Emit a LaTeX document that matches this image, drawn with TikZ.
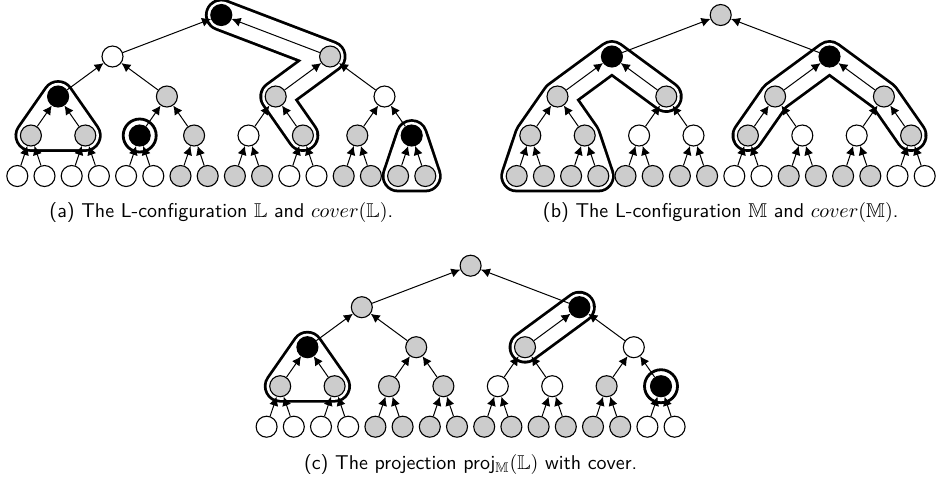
\documentclass[tikz,border=0pt]{standalone}
\usepackage{amssymb}
\usetikzlibrary{arrows.meta}
\pgfdeclarelayer{hulls}
\pgfsetlayers{hulls,main}

\definecolor{wv}{gray}{1}
\definecolor{gv}{gray}{0.8}
\definecolor{bv}{gray}{0}

\tikzset{
  vtx/.style={circle, draw=black, line width=0.55pt, minimum size=10.5pt, inner sep=0pt},
  up/.style={-{Latex[length=4.5pt,width=4.6pt]}, line width=0.5pt},
  hullouter/.style={line width=16.4pt, line cap=round, line join=round},
  hullinner/.style={white, line width=13.6pt, line cap=round, line join=round},
  ring/.style={line width=1.4pt},
  captext/.style={font=\sffamily, inner sep=0pt},
}

% complete binary tree of depth 4: #1 name prefix, #2/#3 offset,
% #4..#8 fill colours of root, level 1, level 2, level 3 and leaves
\newcommand\btree[8]{%
  \begin{scope}[shift={(#2,#3)}]
    \node[vtx, fill=#4] (#1r) at (221.3,15) {};
    \foreach \s [count=\i] in {#5}
      \node[vtx, fill=\s] (#1a\i) at ({17.3+27.2*(8*\i-4.5)},56.5) {};
    \foreach \s [count=\i] in {#6}
      \node[vtx, fill=\s] (#1b\i) at ({17.3+27.2*(4*\i-2.5)},96.5) {};
    \foreach \s [count=\i] in {#7}
      \node[vtx, fill=\s] (#1c\i) at ({17.3+27.2*(2*\i-1.5)},135.5) {};
    \foreach \s [count=\i] in {#8}
      \node[vtx, fill=\s] (#1d\i) at ({17.3+27.2*(\i-1)},176) {};
  \end{scope}
  \foreach \i in {1,2} \draw[up] (#1a\i) -- (#1r);
  \foreach \i [evaluate=\i as \j using {int((\i+1)/2)}] in {1,...,4}
    \draw[up] (#1b\i) -- (#1a\j);
  \foreach \i [evaluate=\i as \j using {int((\i+1)/2)}] in {1,...,8}
    \draw[up] (#1c\i) -- (#1b\j);
  \foreach \i [evaluate=\i as \j using {int((\i+1)/2)}] in {1,...,16}
    \draw[up] (#1d\i) -- (#1c\j);
}

% outlined hull along a path of node centres
\newcommand\hull[1]{%
  \begin{pgfonlayer}{hulls}
    \draw[hullouter] #1;
    \draw[hullinner] #1;
  \end{pgfonlayer}}
% same, with a filled polygon inside
\newcommand\hullfill[2]{%
  \begin{pgfonlayer}{hulls}
    \draw[hullouter] #1;
    \draw[hullinner] #1;
    \fill[white] #2;
  \end{pgfonlayer}}
\newcommand\hullring[1]{%
  \begin{pgfonlayer}{hulls}
    \draw[ring] (#1.center) circle[radius=8.25pt];
  \end{pgfonlayer}}

\begin{document}
\begin{tikzpicture}[x=0.5pt, y=-0.5pt]
\useasboundingbox (0,0) rectangle (936,479);

% (a) the L-configuration L
\btree{a}{0}{0}{bv}{wv,gv}{bv,gv,gv,wv}{gv,gv,bv,gv,wv,gv,gv,bv}
  {wv,wv,wv,wv,wv,wv,gv,gv,gv,gv,wv,wv,gv,gv,gv,gv}
\hullfill{(ab1.center) -- (ac1.center) -- (ac2.center) -- cycle}
  {(ab1.center) -- (ac1.center) -- (ac2.center) -- cycle}
\hullring{ac3}
\hull{(ar.center) -- (aa2.center) -- (ab3.center) -- (ac6.center)}
\hullfill{(ac8.center) -- (ad15.center) -- (ad16.center) -- cycle}
  {(ac8.center) -- (ad15.center) -- (ad16.center) -- cycle}

% (b) the L-configuration M
\btree{b}{499.4}{0}{gv}{bv,bv}{gv,gv,gv,gv}{gv,gv,wv,wv,gv,wv,wv,gv}
  {gv,gv,gv,gv,gv,gv,gv,gv,wv,wv,gv,gv,gv,gv,wv,wv}
\hullfill{(bb2.center) -- (ba1.center) -- (bb1.center)
    (bb1.center) -- (bc1.center) -- (bd1.center) -- (bd4.center) -- (bc2.center) -- cycle}
  {(bb1.center) -- (bc1.center) -- (bd1.center) -- (bd4.center) -- (bc2.center) -- cycle}
\hull{(bc5.center) -- (bb3.center) -- (ba2.center) -- (bb4.center) -- (bc8.center)}

% (c) the projection
\btree{c}{249.3}{250.7}{gv}{gv,bv}{bv,gv,gv,wv}{gv,gv,gv,gv,wv,wv,gv,bv}
  {wv,wv,wv,wv,gv,gv,gv,gv,gv,gv,gv,gv,gv,gv,wv,wv}
\hullfill{(cb1.center) -- (cc1.center) -- (cc2.center) -- cycle}
  {(cb1.center) -- (cc1.center) -- (cc2.center) -- cycle}
\hull{(cb3.center) -- (ca2.center)}
\hullring{cc8}

% captions
\node[captext] (capa) at (221.3,212) {(a) The L-configuration $\mathbb{L}$ and $cover(\mathbb{L})$.};
\node[captext] (capb) at (720.7,212) {(b) The L-configuration $\mathbb{M}$ and $cover(\mathbb{M})$.};
\node[captext] (capc) at (470.6,464) {(c) The projection proj$_{\mathbb{M}}(\mathbb{L})$ with cover.};
\end{tikzpicture}
\end{document}
